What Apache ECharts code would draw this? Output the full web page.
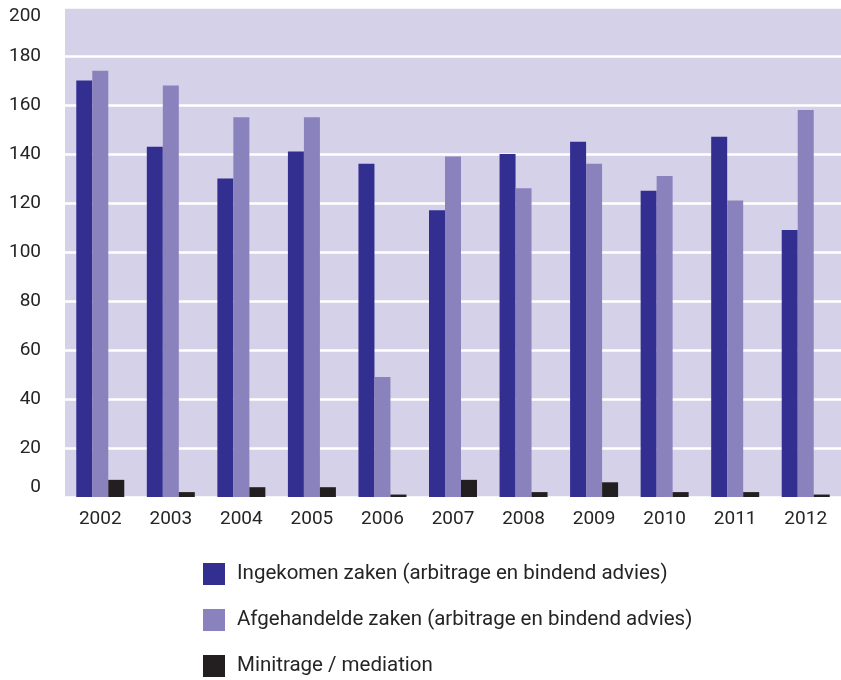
<!DOCTYPE html>
<html>
<head>
<meta charset="utf-8">
<script src="https://cdn.jsdelivr.net/npm/echarts@6/dist/echarts.min.js"></script>
<style>
  html, body { margin: 0; padding: 0; background: #ffffff; }
  #chart { width: 841px; height: 680px; }
</style>
</head>
<body>
<div id="chart"></div>
<script>
// Years on the category axis
const years = ['2002', '2003', '2004', '2005', '2006', '2007', '2008', '2009', '2010', '2011', '2012'];

// Series names shown in the legend
const seriesNames = [
  'Ingekomen zaken (arbitrage en bindend advies)',
  'Afgehandelde zaken (arbitrage en bindend advies)',
  'Minitrage / mediation'
];

// Number of cases per year
const ingekomen   = [170, 143, 130, 141, 136, 117, 140, 145, 125, 147, 109];
const afgehandeld = [174, 168, 155, 155, 49, 139, 126, 136, 131, 121, 158];
const minitrage   = [7, 2, 4, 4, 1, 7, 2, 6, 2, 2, 1];

const colors = ['#322f91', '#8a82bd', '#231f20'];
const textColor = '#262424';
const fontFamily = 'Roboto, "Noto Sans", sans-serif';

const chart = echarts.init(document.getElementById('chart'), null, { renderer: 'canvas' });

const seriesData = [ingekomen, afgehandeld, minitrage];

chart.setOption({
  animation: false,
  textStyle: { fontFamily: fontFamily },
  grid: {
    left: 65,
    right: 0,
    top: 7,
    bottom: 183,
    show: true,
    backgroundColor: '#d5d1e8',
    borderWidth: 0,
    containLabel: false
  },
  legend: {
    orient: 'vertical',
    left: 203,
    top: 563,
    height: 117,
    padding: 0,
    itemWidth: 22,
    itemHeight: 22,
    itemGap: 24,
    icon: 'rect',
    data: seriesNames,
    textStyle: {
      color: textColor,
      fontSize: 20.5,
      fontFamily: fontFamily,
      padding: [0, 0, 0, 7]
    }
  },
  xAxis: {
    type: 'category',
    data: years,
    axisLine: { show: false },
    axisTick: { show: false },
    axisLabel: {
      color: textColor,
      fontSize: 19,
      margin: 13
    }
  },
  yAxis: {
    type: 'value',
    min: 0,
    max: 200,
    interval: 20,
    axisLine: { show: false },
    axisTick: { show: false },
    splitLine: { lineStyle: { color: '#ffffff', width: 2.5 } },
    axisLabel: {
      color: textColor,
      fontSize: 19,
      margin: 24,
      verticalAlignMaxLabel: 'top',
      verticalAlignMinLabel: 'bottom'
    }
  },
  series: seriesNames.map((name, i) => ({
    name: name,
    type: 'bar',
    data: seriesData[i],
    barWidth: 16,
    barGap: '0%',
    itemStyle: { color: colors[i] }
  }))
});
</script>
</body>
</html>
